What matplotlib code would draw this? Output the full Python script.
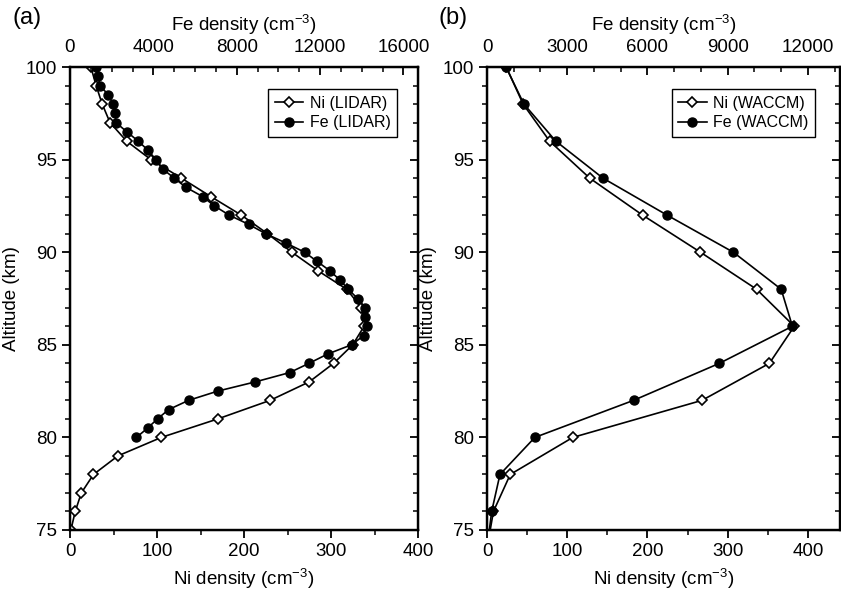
import matplotlib
matplotlib.use("Agg")
import matplotlib.pyplot as plt
from matplotlib.ticker import MultipleLocator

plt.rcParams['font.family'] = ['Liberation Sans', 'DejaVu Sans']
plt.rcParams['mathtext.fontset'] = 'custom'
plt.rcParams['mathtext.rm'] = 'Liberation Sans'
plt.rcParams['mathtext.it'] = 'Liberation Sans'
plt.rcParams['mathtext.bf'] = 'Liberation Sans'

# ---- Panel (a): LIDAR ----
ni_lidar_alt = [75, 76, 77, 78, 79, 80, 81, 82, 83, 84, 85, 86, 87, 88, 89, 90,
                91, 92, 93, 94, 95, 96, 97, 98, 99, 100]
ni_lidar = [1, 6, 13, 27, 55, 105, 170, 230, 275, 303, 325, 338, 335, 318, 285, 255,
            227, 197, 162, 128, 93, 65, 46, 37, 30, 24]

fe_lidar_alt = [80, 80.5, 81, 81.5, 82, 82.5, 83, 83.5, 84, 84.5, 85, 85.5, 86, 86.5,
                87, 87.5, 88, 88.5, 89, 89.5, 90, 90.5, 91, 91.5, 92, 92.5, 93, 93.5,
                94, 94.5, 95, 95.5, 96, 96.5, 97, 97.5, 98, 98.5, 99, 99.5, 100]
fe_lidar = [3190, 3720, 4200, 4730, 5690, 7090, 8900, 10540, 11470, 12360, 13510, 14100,
            14230, 14150, 14150, 13800, 13350, 12950, 12470, 11860, 11260, 10350, 9390,
            8580, 7640, 6930, 6370, 5570, 5000, 4440, 4120, 3750, 3270, 2730, 2200, 2170,
            2070, 1840, 1430, 1360, 1270]

# ---- Panel (b): WACCM ----
waccm_alt = [74, 76, 78, 80, 82, 84, 86, 88, 90, 92, 94, 96, 98, 100]
ni_waccm = [0, 8, 29, 107, 268, 352, 383, 336, 266, 194, 128, 78, 45, 24]
fe_waccm = [0, 175, 485, 1790, 5480, 8690, 11420, 11000, 9210, 6735, 4335, 2570, 1380, 708]

FS = 13.5
LFS = 11.5

fig = plt.figure(figsize=(8.41, 5.92), dpi=100)


def setup(ax, ni_max, fe_max, fe_major, fe_minor, ni_major, ni_minor):
    ax.set_xlim(0, ni_max)
    ax.set_ylim(75, 100)
    ax.xaxis.set_major_locator(MultipleLocator(ni_major))
    ax.xaxis.set_minor_locator(MultipleLocator(ni_minor))
    ax.yaxis.set_major_locator(MultipleLocator(5))
    ax.yaxis.set_minor_locator(MultipleLocator(1))
    ax.tick_params(which='major', direction='out', length=6, width=1.3, labelsize=FS)
    ax.tick_params(which='minor', direction='out', length=3.5, width=1.1)
    ax.tick_params(top=False, right=False, which='both')
    for s in ax.spines.values():
        s.set_linewidth(1.6)
    ax.set_xlabel('Ni density (cm$^{-3}$)', fontsize=FS, labelpad=5)
    ax.set_ylabel('Altitude (km)', fontsize=FS, labelpad=4)

    axR = ax.twinx()
    axR.set_ylim(75, 100)
    axR.yaxis.set_major_locator(MultipleLocator(5))
    axR.yaxis.set_minor_locator(MultipleLocator(1))
    axR.tick_params(which='major', direction='in', length=6, width=1.3, labelright=False)
    axR.tick_params(which='minor', direction='in', length=3.5, width=1.1)

    axT = ax.twiny()
    axT.set_xlim(0, fe_max)
    axT.xaxis.set_major_locator(MultipleLocator(fe_major))
    axT.xaxis.set_minor_locator(MultipleLocator(fe_minor))
    axT.tick_params(which='major', direction='in', length=6, width=1.3, labelsize=FS, pad=8)
    axT.tick_params(which='minor', direction='in', length=3.5, width=1.1)
    axT.set_xlabel('Fe density (cm$^{-3}$)', fontsize=FS, labelpad=6)
    for s in axT.spines.values():
        s.set_linewidth(1.6)
    return axT


def legend(axT, handles, x):
    lg = axT.legend(handles=handles, loc='upper right', bbox_to_anchor=(x, 0.952),
                    borderaxespad=0, fontsize=LFS, frameon=True, fancybox=False,
                    edgecolor='black', handlelength=1.8, borderpad=0.4,
                    labelspacing=0.3, handletextpad=0.4, framealpha=1)
    lg.get_frame().set_linewidth(1.0)


axA = fig.add_axes([70 / 841, 1 - 530 / 592, 348 / 841, 463 / 592])
axAT = setup(axA, 400, 16700, 4000, 1000, 100, 50)
l1, = axA.plot(ni_lidar, ni_lidar_alt, '-', color='black', lw=1.2, marker='D', ms=5.5,
               mfc='white', mec='black', mew=1.2, label='Ni (LIDAR)')
l2, = axAT.plot(fe_lidar, fe_lidar_alt, '-', color='black', lw=1.2, marker='o', ms=6.5,
                mfc='black', mec='black', label='Fe (LIDAR)')
legend(axAT, [l1, l2], 0.94)

axB = fig.add_axes([487 / 841, 1 - 530 / 592, 353 / 841, 463 / 592])
axBT = setup(axB, 440, 13200, 3000, 1000, 100, 50)
l3, = axB.plot(ni_waccm, waccm_alt, '-', color='black', lw=1.2, marker='D', ms=5.5,
               mfc='white', mec='black', mew=1.2, label='Ni (WACCM)')
l4, = axBT.plot(fe_waccm, waccm_alt, '-', color='black', lw=1.2, marker='o', ms=6.5,
                mfc='black', mec='black', label='Fe (WACCM)')
legend(axBT, [l3, l4], 0.929)

fig.text(12 / 841, 1 - 18 / 592, '(a)', fontsize=17, va='center', ha='left')
fig.text(438 / 841, 1 - 18 / 592, '(b)', fontsize=17, va='center', ha='left')

fig.savefig('out.png', dpi=100)
